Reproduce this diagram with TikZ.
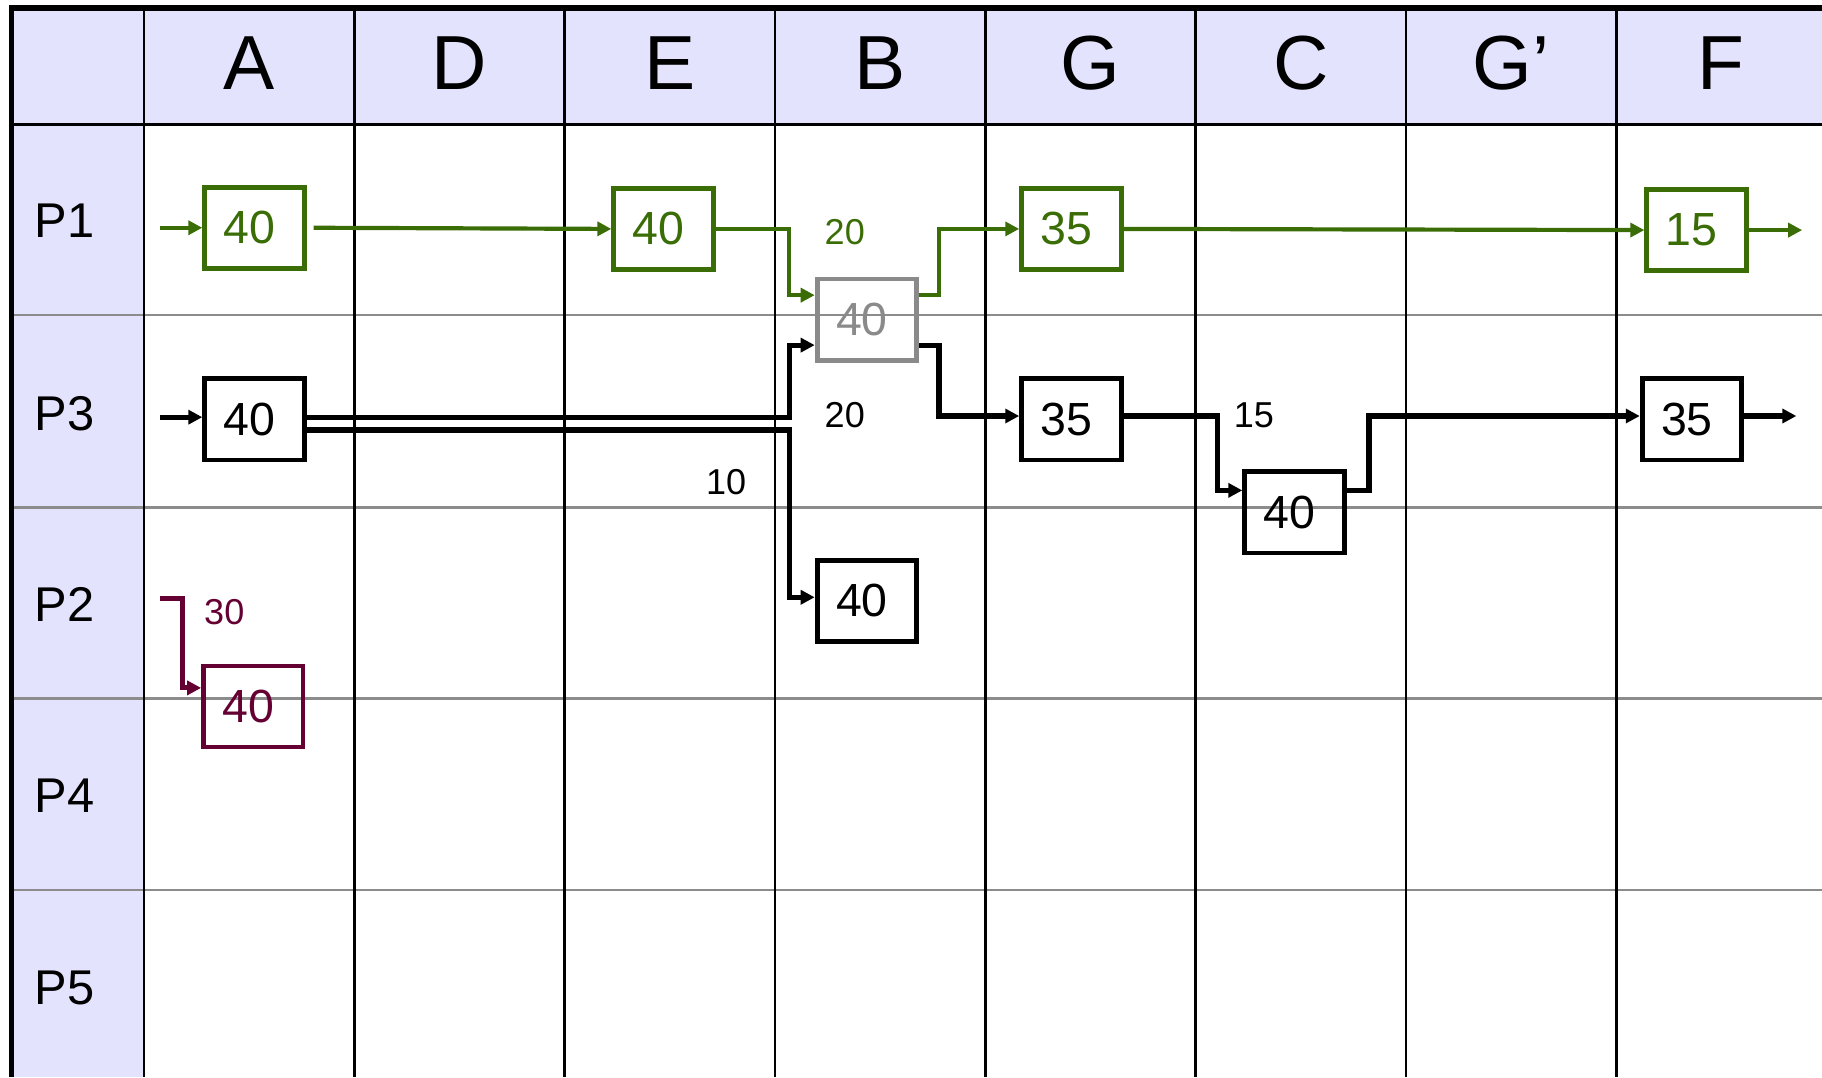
\documentclass[tikz,border=0pt]{standalone}
\usepackage{fontspec}
\setmainfont{Liberation Sans}
\usetikzlibrary{arrows.meta,calc}
\definecolor{lav}{HTML}{E3E3FD}
\definecolor{grn}{HTML}{3B6D06}
\definecolor{mar}{HTML}{640032}
\definecolor{gbox}{HTML}{8A8A8A}
\definecolor{rowline}{HTML}{8C8C8C}
\tikzset{
  hdr/.style={font=\fontsize{33}{38}\selectfont},
  plab/.style={font=\fontsize{21}{25}\selectfont, anchor=west},
  numbox/.style={draw, line width=2.1pt, minimum width=42.8pt, minimum height=34.9pt, inner sep=0pt, font=\fontsize{20}{24}\selectfont},
  gbx/.style={numbox, draw=grn, text=grn},
  kbx/.style={numbox, draw=black, text=black},
  mbx/.style={numbox, draw=mar, text=mar},
  ybx/.style={numbox, draw=gbox, text=gbox},
  tip/.style={-{Triangle[length=6pt,width=6pt]}},
  gcon/.style={tip, draw=grn, line width=1.8pt},
  kcon/.style={tip, draw=black, line width=2.2pt},
  mcon/.style={tip, draw=mar, line width=2.2pt},
  small/.style={font=\fontsize{15.5}{18}\selectfont},
}
\newcommand{\bt}[1]{#1\kern4.3pt}
\begin{document}
\begin{tikzpicture}[x=0.5pt,y=-0.5pt]
\useasboundingbox (0,0) rectangle (1568,927);
% backgrounds
\fill[lav] (10,7) rectangle (1568,107);
\fill[lav] (10,107) rectangle (124,927);
% row lines
\foreach \yy in {271,437,601,766} \draw[rowline, line width=1.2pt] (10,\yy) -- (1568,\yy);
% column lines
\foreach \xx in {124,305,486,667,848,1029,1210,1391} \draw[black, line width=1.2pt] (\xx,7) -- (\xx,927);
% header bottom
\draw[black, line width=1.4pt] (10,107) -- (1568,107);
% borders
\draw[black, line width=2.4pt] (8,7) -- (1568,7);
\draw[black, line width=2.2pt] (10,6) -- (10,927);
% headers
\node[hdr] (hA) at (214.5,54) {A};
\node[hdr] (hD) at (395.5,54) {D};
\node[hdr] (hE) at (576.5,54) {E};
\node[hdr] (hB) at (757.5,54) {B};
\node[hdr] (hG) at (938.5,54) {G};
\node[hdr] (hC) at (1119.5,54) {C};
\node[hdr] (hGp) at (1300.5,54) {G’};
\node[hdr] (hF) at (1481,54) {F};
% row labels
\node[plab] (p1) at (23,190) {P1};
\node[plab] (p3) at (23,356) {P3};
\node[plab] (p2) at (23,520) {P2};
\node[plab] (p4) at (23,685) {P4};
\node[plab] (p5) at (23,850) {P5};
% boxes
\node[gbx] (a1) at (219,196) {\bt{40}};
\node[gbx] (e1) at (571,197) {\bt{40}};
\node[ybx] (gb) at (746,275) {\bt{40}};
\node[gbx] (g1) at (922,197) {\bt{35}};
\node[gbx] (f1) at (1460,198) {\bt{15}};
\node[kbx] (a3) at (219,361) {\bt{40}};
\node[kbx] (g3) at (922,361) {\bt{35}};
\node[kbx] (c3) at (1114,441) {\bt{40}};
\node[kbx] (f3) at (1456,361) {\bt{35}};
\node[kbx] (b2) at (746,517) {\bt{40}};
\node[mbx] (a2) at (218,608) {\bt{40}};
% free ends
\coordinate (ing) at (138,196);
\coordinate (ink) at (138,359);
\coordinate (inm) at (138,515);
% green connectors
\draw[gcon] (ing) -- (a1.west);
\draw[gcon] ([xshift=3pt]a1.east) -- (e1.west);
\draw[gcon] (e1.east) -| ([xshift=-11pt,yshift=10.5pt]gb.west) -- ([yshift=10.5pt]gb.west);
\draw[gcon] ([yshift=10.5pt]gb.east) -| ([xshift=-34.5pt]g1.west) -- (g1.west);
\draw[gcon] (g1.east) -- (f1.west);
\draw[gcon] (f1.east) -- ([xshift=23pt]f1.east);
% black connectors
\draw[kcon] (ink) -- ([yshift=1pt]a3.west);
\draw[kcon] ([yshift=1pt]a3.east) -| ([xshift=-11pt,yshift=-11pt]gb.west) -- ([yshift=-11pt]gb.west);
\draw[kcon] ([yshift=-4.5pt]a3.east) -| ([xshift=-11pt,yshift=1.5pt]b2.west) -- ([yshift=1.5pt]b2.west);
\draw[kcon] ([yshift=-11pt]gb.east) -| ([xshift=-34.5pt,yshift=1.5pt]g3.west) -- ([yshift=1.5pt]g3.west);
\draw[kcon] ([yshift=1.5pt]g3.east) -| ([xshift=-10.5pt,yshift=9.5pt]c3.west) -- ([yshift=9.5pt]c3.west);
\draw[kcon] ([yshift=9.5pt]c3.east) -| ([xshift=-116.5pt,yshift=1.5pt]f3.west) -- ([yshift=1.5pt]f3.west);
\draw[kcon] ([yshift=1.5pt]f3.east) -- ([xshift=22.5pt,yshift=1.5pt]f3.east);
% maroon connector
\draw[mcon] (inm) -| ([xshift=-8pt,yshift=8pt]a2.west) -- ([yshift=8pt]a2.west);
% labels
\node[small, text=grn] (l20g) at (727,200) {20};
\node[small] (l20k) at (727,357) {20};
\node[small] (l10) at (625,415) {10};
\node[small] (l15) at (1079,357) {15};
\node[small, text=mar] (l30) at (193,527) {30};
\end{tikzpicture}
\end{document}
